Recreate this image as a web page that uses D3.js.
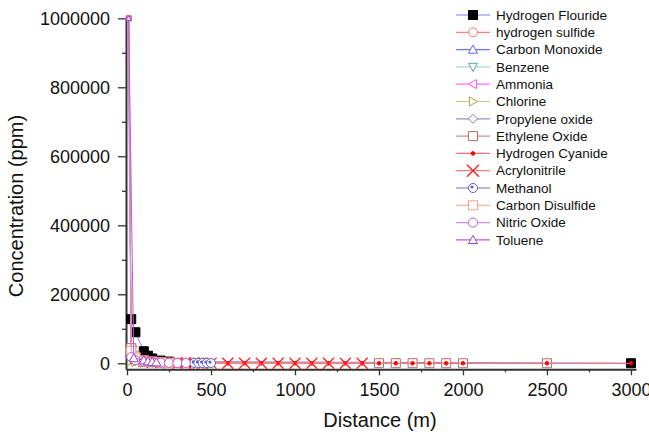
<!DOCTYPE html>
<html>
<head>
<meta charset="utf-8">
<script src="https://cdn.jsdelivr.net/npm/d3@7"></script>
<style>
  body { margin: 0; background: #fff; }
  svg { display: block; font-family: "Liberation Sans", Arial, sans-serif; }
</style>
</head>
<body>
<div id="chart"></div>
<script>
/* series names, in legend order */
const seriesNames = ["Hydrogen Flouride", "hydrogen sulfide", "Carbon Monoxide", "Benzene",
	"Ammonia", "Chlorine", "Propylene oxide", "Ethylene Oxide", "Hydrogen Cyanide",
	"Acrylonitrile", "Methanol", "Carbon Disulfide", "Nitric Oxide", "Toluene"];

/* distance (m) and concentration (ppm) */
const distHF = [25, 50, 100, 125, 150, 200, 250, 3000];
const concHF = [128000, 90000, 35000, 22000, 14000, 8000, 5000, 200];

const distH2S = [25, 50, 75, 100, 150, 200, 250, 300];
const concH2S = [30000, 15000, 9000, 6000, 3000, 1800, 1200, 800];

const distCO = [10, 25, 50, 100, 150, 200];
const concCO = [1000000, 22000, 10000, 4000, 2000, 1000];

const distBenzene = [25, 50, 100, 150, 200, 250];
const concBenzene = [12000, 6000, 2500, 1400, 800, 500];

const distAmmonia = [5, 25, 50, 75, 100, 150];
const concAmmonia = [1000000, 25000, 11000, 6000, 3500, 1500];

const distChlorine = [25, 50, 100, 150, 200, 300];
const concChlorine = [7000, 3500, 1500, 800, 500, 250];

const distPropylene = [25, 50, 100, 150, 200, 250, 300, 350, 400, 450, 500];
const concPropylene = [38000, 16000, 9000, 6500, 5000, 4000, 3200, 2600, 2100, 1700, 1400];

const distEthylene = [10, 25, 50, 100, 150, 200, 1500, 1600, 1700, 1800, 1900, 2000, 2500];
const concEthylene = [1000000, 44000, 20000, 10000, 6000, 4000, 300, 260, 230, 200, 180, 160, 100];

const distHCN = [10, 25, 50, 100, 150, 200, 250, 300, 350, 400, 450, 500, 600, 700, 800, 900,
	1000, 1100, 1200, 1300, 1400, 1500, 1600, 1700, 1800, 1900, 2000, 2500, 3000];
const concHCN = [1000000, 40000, 15000, 6000, 3500, 2200, 1500, 1100, 800, 650, 520, 430, 320, 250,
	200, 160, 130, 110, 95, 80, 70, 60, 52, 46, 40, 36, 32, 20, 14];

const distAcrylo = [10, 25, 50, 100, 150, 200, 250, 300, 350, 400, 425, 450, 500, 600, 700, 800,
	900, 1000, 1100, 1200, 1300, 1400];
const concAcrylo = [1000000, 35000, 14000, 5500, 3200, 2000, 1400, 1000, 780, 620, 560, 500, 410,
	300, 230, 180, 150, 120, 100, 85, 72, 62];

const distMethanol = [25, 50, 100, 200, 300, 400, 425, 450, 475, 500];
const concMethanol = [20000, 10000, 5000, 2500, 1500, 1100, 1000, 900, 820, 750];

const distCS2 = [25, 50, 100, 150, 200, 250];
const concCS2 = [36000, 16000, 7000, 4000, 2600, 1800];

const distNO = [10, 25, 50, 100, 150, 200, 250, 300, 350];
const concNO = [1000000, 18000, 9000, 5000, 3000, 1800, 1200, 900, 700];

const distToluene = [10, 40, 100, 125, 150, 175];
const concToluene = [1000000, 15000, 9000, 6000, 4500, 3000];

/* x and y axis ticks */
const xTicks = [0, 500, 1000, 1500, 2000, 2500, 3000];
const yTicks = [0, 200000, 400000, 600000, 800000, 1000000];

const seriesData = [
	[distHF, concHF], [distH2S, concH2S], [distCO, concCO], [distBenzene, concBenzene],
	[distAmmonia, concAmmonia], [distChlorine, concChlorine], [distPropylene, concPropylene],
	[distEthylene, concEthylene], [distHCN, concHCN], [distAcrylo, concAcrylo],
	[distMethanol, concMethanol], [distCS2, concCS2], [distNO, concNO], [distToluene, concToluene]
];

/* line colour, marker colour, marker type, marker fill */
const styles = [
	{ line: "#8080ff", mark: "#000000", type: "square", fill: "#000000" },
	{ line: "#ff8080", mark: "#ff7070", type: "circle", fill: "#ffffff" },
	{ line: "#7070ff", mark: "#6060ff", type: "up", fill: "#ffffff" },
	{ line: "#a8dcd8", mark: "#50a8a8", type: "down", fill: "#ffffff" },
	{ line: "#ff70ff", mark: "#ff50ff", type: "left", fill: "#ffffff" },
	{ line: "#c8c880", mark: "#a8a840", type: "right", fill: "#ffffff" },
	{ line: "#9090d0", mark: "#8080c8", type: "diamond", fill: "#ffffff" },
	{ line: "#c89090", mark: "#b86868", type: "square", fill: "#ffffff" },
	{ line: "#ff7070", mark: "#ff0000", type: "dot", fill: "#ff0000" },
	{ line: "#ff8080", mark: "#ff2020", type: "x", fill: "none" },
	{ line: "#7070c8", mark: "#6060c0", type: "circledot", fill: "#ffffff" },
	{ line: "#ffb0a0", mark: "#f8a090", type: "square", fill: "#ffffff" },
	{ line: "#d090e0", mark: "#b860d0", type: "circle", fill: "#ffffff" },
	{ line: "#b060d0", mark: "#a040c8", type: "up", fill: "#ffffff" }
];

const width = 649, height = 432;

const svg = d3.select("#chart").append("svg")
	.attr("width", width)
	.attr("height", height);

const x = d3.scaleLinear().domain([-6, 3030]).range([126, 636]);
const y = d3.scaleLinear().domain([-17400, 1000000]).range([369.3, 18.3]);

/* marker path, centred at 0,0 */
function markerPath(type, s) {
	const h = s / 2;
	switch (type) {
		case "square": return `M${-h},${-h}H${h}V${h}H${-h}Z`;
		case "circle":
		case "circledot": return `M${h},0A${h},${h} 0 1,1 ${-h},0A${h},${h} 0 1,1 ${h},0Z`;
		case "up": return `M0,${-h}L${h},${h * 0.8}L${-h},${h * 0.8}Z`;
		case "down": return `M0,${h}L${h},${-h * 0.8}L${-h},${-h * 0.8}Z`;
		case "left": return `M${-h},0L${h * 0.8},${-h}L${h * 0.8},${h}Z`;
		case "right": return `M${h},0L${-h * 0.8},${-h}L${-h * 0.8},${h}Z`;
		case "diamond": return `M0,${-h}L${h},0L0,${h}L${-h},0Z`;
		case "dot": return `M1.8,0A1.8,1.8 0 1,1 -1.8,0A1.8,1.8 0 1,1 1.8,0Z`;
		case "x": return `M${-h},${-h}L${h},${h}M${-h},${h}L${h},${-h}`;
	}
}

function drawMarker(g, st, s) {
	g.append("path")
		.attr("d", markerPath(st.type, s))
		.attr("fill", st.fill)
		.attr("stroke", st.mark)
		.attr("stroke-width", st.type === "x" ? 1.3 : 1);
	if (st.type === "circledot") {
		g.append("circle").attr("cx", -1).attr("cy", -1).attr("r", 1.6).attr("fill", st.mark);
	}
}

/* axes */
const xAxis = svg.append("g").attr("transform", "translate(0,369.3)");
xAxis.call(d3.axisBottom(x).tickValues(xTicks).tickSize(6).tickSizeOuter(0).tickPadding(8)
	.tickFormat(d3.format("d")));
svg.append("g").attr("transform", "translate(0,369.3)")
	.call(d3.axisBottom(x).tickValues(d3.range(250, 3000, 500)).tickSize(3).tickFormat(""))
	.select(".domain").remove();

const yAxis = svg.append("g").attr("transform", "translate(126,0)");
yAxis.call(d3.axisLeft(y).tickValues(yTicks).tickSize(8).tickSizeOuter(0).tickPadding(8)
	.tickFormat(d3.format("d")));
svg.append("g").attr("transform", "translate(126,0)")
	.call(d3.axisLeft(y).tickValues(d3.range(100000, 1000000, 200000)).tickSize(4).tickFormat(""))
	.select(".domain").remove();

svg.selectAll(".domain").attr("stroke", "#333").attr("stroke-width", 2);
svg.selectAll(".tick line").attr("stroke", "#333").attr("stroke-width", 1.3);
svg.selectAll(".tick text")
	.attr("font-family", "Liberation Sans, Arial, sans-serif")
	.attr("font-size", 18)
	.attr("fill", "#111");

svg.append("text")
	.attr("x", 380).attr("y", 427)
	.attr("text-anchor", "middle")
	.attr("font-size", 20)
	.attr("fill", "#111")
	.text("Distance (m)");

svg.append("text")
	.attr("transform", "translate(23,206) rotate(-90)")
	.attr("text-anchor", "middle")
	.attr("font-size", 20)
	.attr("fill", "#111")
	.text("Concentration (ppm)");

/* series; markers at the 1e6 start point are drawn small, as in the picture */
const line = d3.line().x((d) => x(d[0])).y((d) => y(d[1]));
const plot = svg.append("g").attr("class", "series");

seriesData.forEach(([dist, conc], i) => {
	const st = styles[i];
	const pts = dist.map((d, k) => [d, conc[k]]);
	const g = plot.append("g");
	g.append("path")
		.attr("d", line(pts))
		.attr("fill", "none")
		.attr("stroke", st.line)
		.attr("stroke-width", 1);
	pts.forEach((p) => {
		let size = st.type === "x" ? 11 : 9;
		if (p[1] >= 1000000) size = 5;
		const m = g.append("g").attr("transform", `translate(${x(p[0])},${y(p[1])})`);
		drawMarker(m, st, size);
	});
});

/* legend */
const legend = svg.append("g").attr("class", "legend");
seriesNames.forEach((name, i) => {
	const st = styles[i];
	const yy = 15 + i * 17.3;
	legend.append("line")
		.attr("x1", 456).attr("x2", 490)
		.attr("y1", yy).attr("y2", yy)
		.attr("stroke", st.line)
		.attr("stroke-width", 1.2);
	const m = legend.append("g").attr("transform", `translate(473,${yy})`);
	drawMarker(m, st, st.type === "x" ? 12 : 9);
	legend.append("text")
		.attr("x", 496).attr("y", yy)
		.attr("dy", "0.35em")
		.attr("font-size", 13.5)
		.attr("fill", "#111")
		.text(name);
});
</script>
</body>
</html>
